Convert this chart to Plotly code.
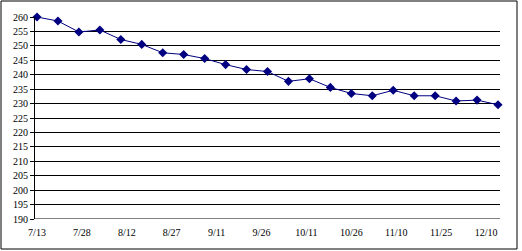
import plotly.graph_objects as go
import pandas as pd

# Data
start_date = "2003-07-13"
n_points = 23
values = [260.0, 258.6, 254.8, 255.5, 252.2, 250.5, 247.6, 247.0,
          245.6, 243.5, 241.8, 241.1, 237.7, 238.6, 235.6, 233.5,
          232.7, 234.6, 232.7, 232.7, 230.9, 231.2, 229.6]
dates = pd.date_range(start_date, periods=n_points, freq="7D")
tick_labels = ["7/13", "7/28", "8/12", "8/27", "9/11", "9/26",
               "10/11", "10/26", "11/10", "11/25", "12/10"]
tick_dates = pd.date_range(start_date, periods=len(tick_labels), freq="15D")
y_ticks = list(range(190, 261, 5))

W, H = 522, 251
ml, mr, mt, mb = 35, 22, 17, 32

fig = go.Figure()
fig.add_trace(go.Scatter(
    x=dates, y=values, mode="lines+markers",
    line=dict(color="#000080", width=1),
    marker=dict(symbol="diamond", size=7, color="#000080"),
    showlegend=False, cliponaxis=False,
))

font = dict(family="Liberation Serif, Times New Roman, serif", size=10, color="black")
fig.update_layout(
    width=W, height=H,
    margin=dict(l=ml, r=mr, t=mt, b=mb),
    paper_bgcolor="white", plot_bgcolor="white",
    font=font,
    xaxis=dict(
        range=[pd.Timestamp(start_date) - pd.Timedelta(hours=16),
               dates[-1] + pd.Timedelta(hours=16)],
        tickvals=tick_dates, ticktext=tick_labels,
        showgrid=False, zeroline=False, showline=False,
        ticks="", tickfont=font, ticklabelstandoff=6,
    ),
    yaxis=dict(
        range=[190, 260], tickvals=y_ticks,
        showgrid=True, gridcolor="black", gridwidth=1,
        zeroline=False, showline=True, linecolor="black", linewidth=1,
        ticks="outside", ticklen=4, tickcolor="black", tickfont=font,
    ),
)
# bottom axis line at 190
fig.add_shape(type="line", xref="paper", yref="y", x0=0, x1=1, y0=190, y1=190,
              line=dict(color="black", width=1))
# outer chart border (pixel coords converted to paper coords)
pw, ph = W - ml - mr, H - mt - mb
def px2x(p): return (p - ml) / pw
def py2y(p): return 1 - (p - mt) / ph
fig.add_shape(type="rect", xref="paper", yref="paper",
              x0=px2x(1), x1=px2x(517), y0=py2y(1), y1=py2y(249),
              line=dict(color="black", width=1), layer="below")

fig.write_html("out.html")
